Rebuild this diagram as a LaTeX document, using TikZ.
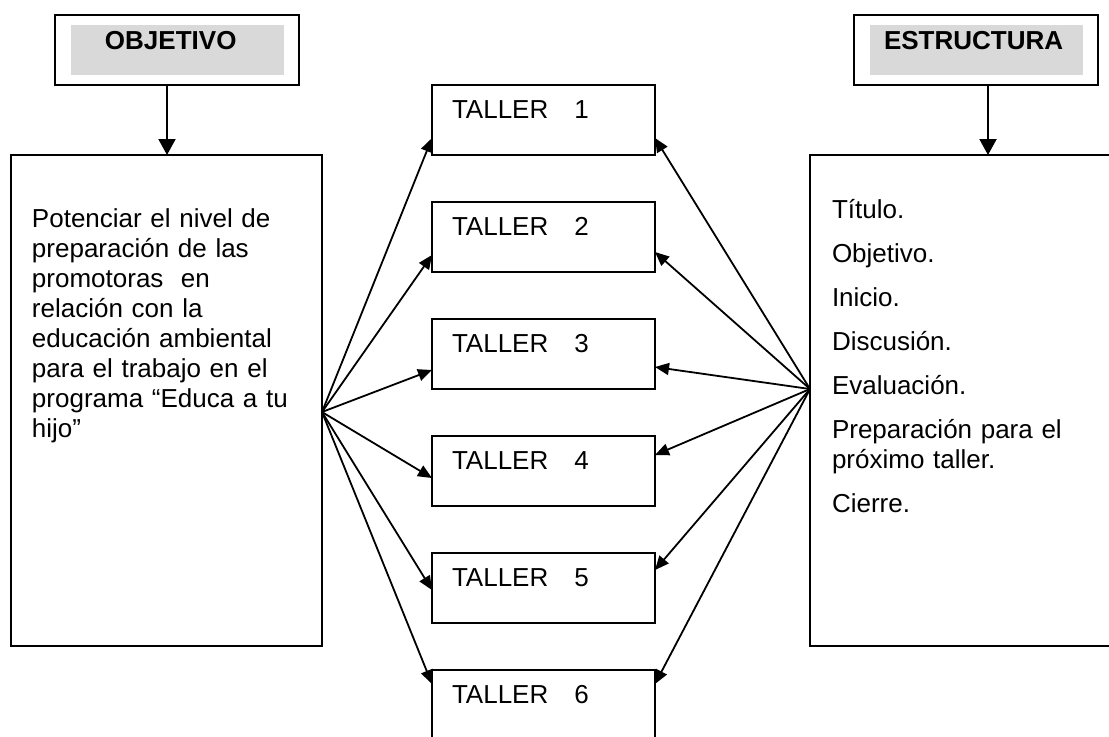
\documentclass[tikz,border=0pt]{standalone}
\usepackage{fontspec}
\setmainfont{Liberation Sans}
\usetikzlibrary{arrows.meta,positioning}

\begin{document}
\begin{tikzpicture}
[x=0.5pt, y=-0.5pt, font=\fontsize{13}{15}\selectfont,
% STYLES
every node/.style={inner sep=0pt, outer sep=0pt},
% header boxes with the gray band inside
header/.style={rectangle, draw, line width=1pt, align=left, text width=106pt, inner xsep=8pt, minimum height=35pt, text height=17pt, text depth=18pt, font=\fontsize{13}{15}\selectfont\bfseries,
  path picture={\fill[black!15] ([xshift=8pt,yshift=-5pt]path picture bounding box.north west) rectangle ([xshift=-7.5pt,yshift=5pt]path picture bounding box.south east);}},
% the two tall boxes
bigbox/.style={rectangle, draw, line width=1.1pt, align=left, inner ysep=0pt},
% one box for each workshop
taller/.style={rectangle, draw, line width=1pt, align=left, text width=91.5pt, inner xsep=10pt, inner ysep=0pt, text height=16.5pt, text depth=18.5pt},
fan/.style={-{Triangle[length=7pt,width=6pt]}, line width=0.9pt}]

\useasboundingbox (0,0) rectangle (1109,736);
\clip (0,0) rectangle (1109,736);

% Draw headers
\node [header, anchor=north west] (objetivo) at (55,15) {\hspace*{17pt}OBJETIVO};
\node [header, anchor=north west] (estructura) at (854,15) {\hspace*{7pt}ESTRUCTURA};

% tall boxes
\node [bigbox, anchor=north west, text width=134.5pt, inner xsep=10.5pt, text height=36pt, text depth=209.5pt] (comment-objetivo) at (11,155) {Potenciar el nivel de\\
preparación de las\\
promotoras\ \ en\\
relación con la\\
educación ambiental\\
para el trabajo en el\\
programa “Educa a tu\\
hijo”};

\node [bigbox, anchor=north west, text width=130.5pt, inner xsep=11pt, text height=31.5pt, text depth=214pt] (comment-estructura) at (810,155) {Título.\\[7pt]
Objetivo.\\[7pt]
Inicio.\\[7pt]
Discusión.\\[7pt]
Evaluación.\\[7pt]
Preparación para el\\
próximo taller.\\[7pt]
Cierre.};

% talleres
\node [taller, anchor=north west] (taller1) at (432,85) {TALLER\ \ \ 1};
\node [taller, below=23.5pt of taller1] (taller2) {TALLER\ \ \ 2};
\node [taller, below=23.5pt of taller2] (taller3) {TALLER\ \ \ 3};
\node [taller, below=23.5pt of taller3] (taller4) {TALLER\ \ \ 4};
\node [taller, below=23.5pt of taller4] (taller5) {TALLER\ \ \ 5};
\node [taller, below=23.5pt of taller5] (taller6) {TALLER\ \ \ 6};

\coordinate (fan-left) at ([yshift=-5.75pt]comment-objetivo.east);
\coordinate (fan-right) at ([yshift=5.75pt]comment-estructura.west);

%%%%%%%%%%%%%%%%

\draw[-{Triangle[length=8pt,width=8.5pt]}, line width=1pt] ([xshift=-5pt]objetivo.south) -- ([xshift=-5pt]objetivo.south |- comment-objetivo.north);
\draw[-{Triangle[length=8pt,width=8.5pt]}, line width=1pt] ([xshift=6pt]estructura.south) -- ([xshift=6pt]estructura.south |- comment-estructura.north);

\path[fan]
(fan-left) edge ([yshift=-9pt]taller1.west)
(fan-left) edge ([yshift=-9pt]taller2.west)
(fan-left) edge ([yshift=-8pt]taller3.west)
(fan-left) edge ([yshift=-3.5pt]taller4.west)
(fan-left) edge ([yshift=-1pt]taller5.west)
(fan-left) edge ([yshift=10.5pt]taller6.west)
(fan-right) edge ([yshift=-9pt]taller1.east)
(fan-right) edge ([yshift=-7.5pt]taller2.east)
(fan-right) edge ([yshift=-6.5pt]taller3.east)
(fan-right) edge ([yshift=8pt]taller4.east)
(fan-right) edge ([yshift=9pt]taller5.east)
(fan-right) edge ([yshift=10.5pt]taller6.east);

\end{tikzpicture}
\end{document}
